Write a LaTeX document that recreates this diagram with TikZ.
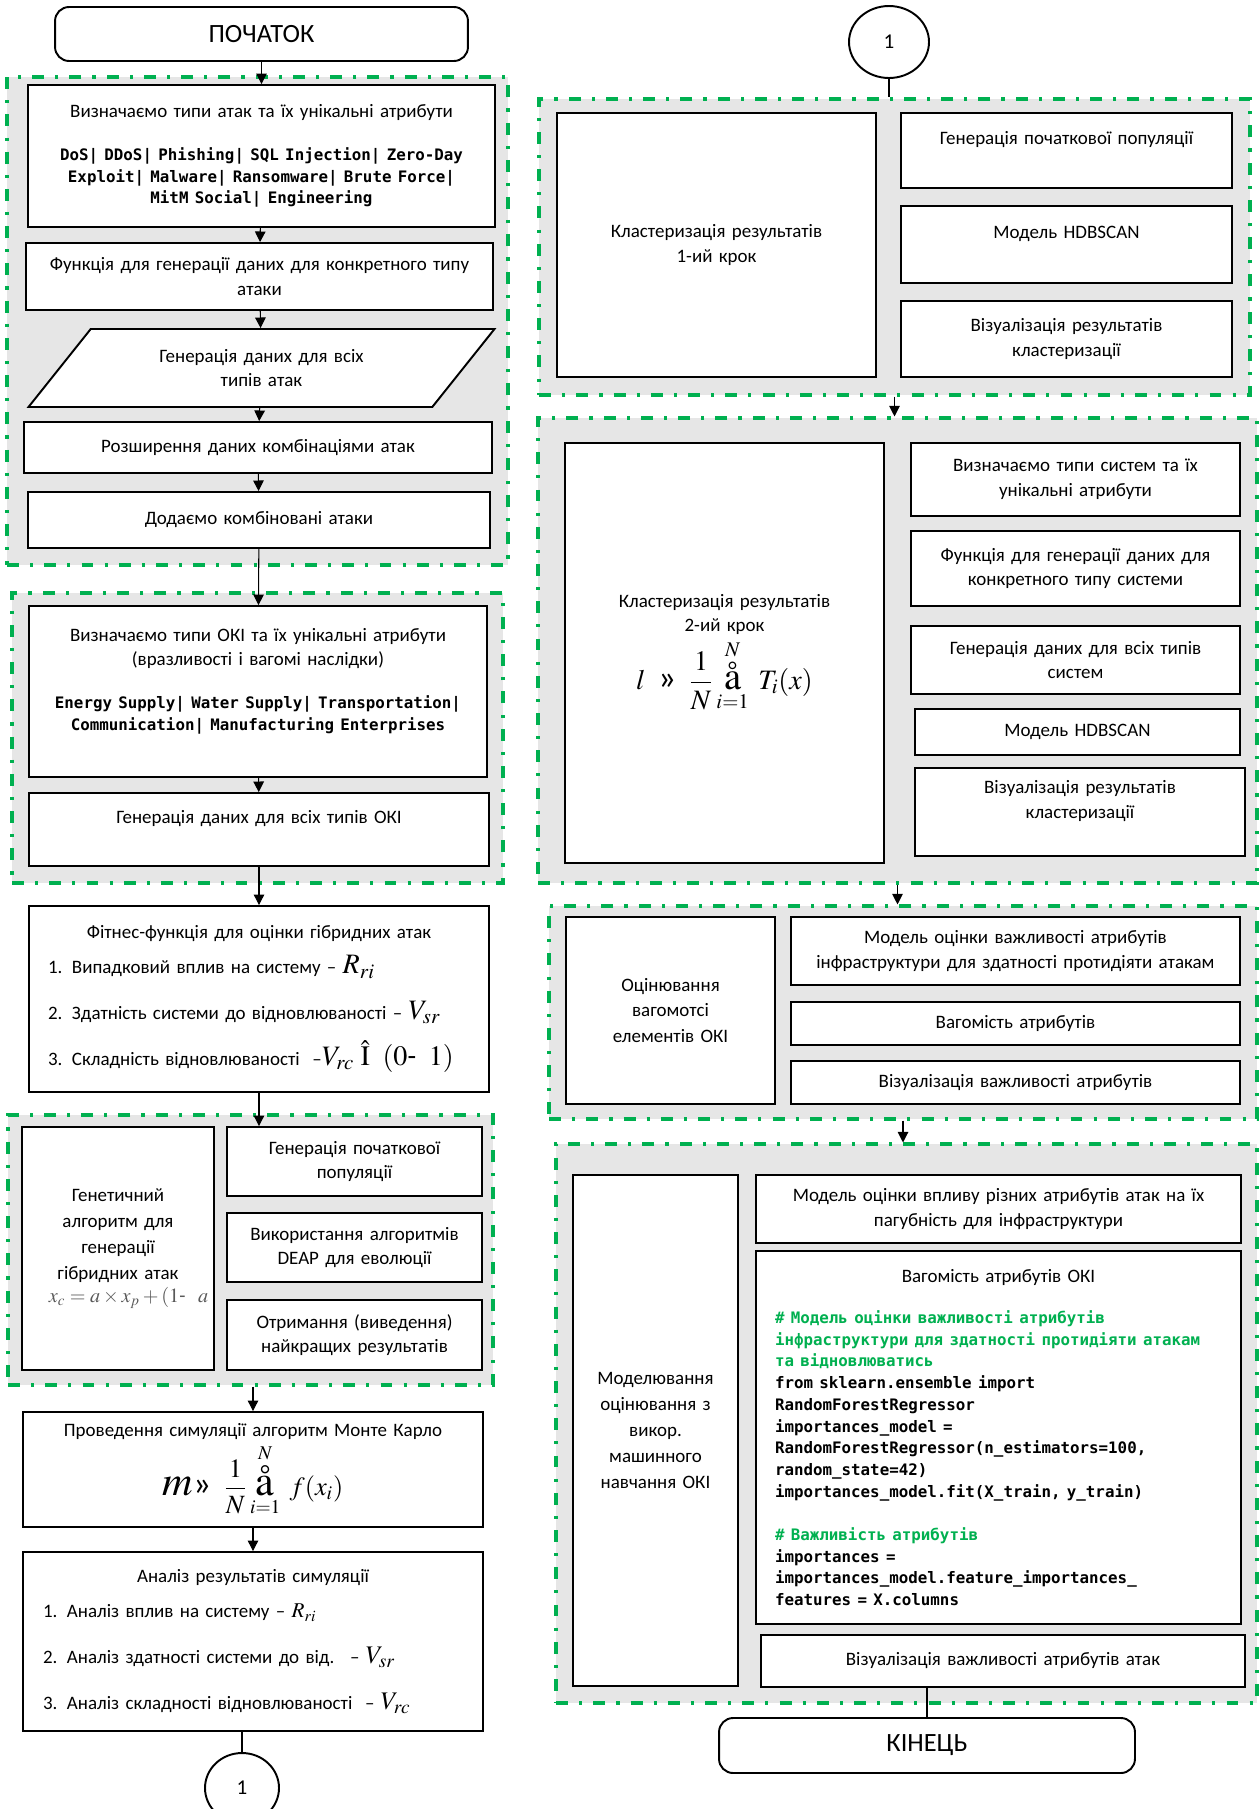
\documentclass[tikz,border=0pt]{standalone}
\usepackage{amsmath}
\usepackage{mathptmx}
\usepackage[no-math]{fontspec}
\setmainfont{Carlito}
\newfontfamily\codefont{DejaVu Sans Mono}
\usetikzlibrary{shapes.geometric, arrows.meta}
\definecolor{grpgreen}{RGB}{0,176,80}
\definecolor{grpgray}{RGB}{230,230,230}
\definecolor{codegreen}{RGB}{0,176,80}
\newcommand{\codestyle}{\codefont\bfseries\fontsize{9}{12.4}\selectfont}
\newcommand{\ringsum}[1]{\mathop{\hbox{\fontsize{#1}{#1}\selectfont$\mathring{\mathrm{a}}$}}\limits}

\begin{document}
\begin{tikzpicture}[
			x=0.02cm, y=-0.02cm,
			font=\fontsize{10.8}{14}\selectfont,
			box_node/.style={
				rectangle,
				draw=black,
				line width=1.1pt,
				fill=white,
				align=center,
				inner sep=0pt
			},
			group_node/.style={
				rectangle,
				draw=grpgreen,
				fill=grpgray,
				line width=1.8pt,
				dash pattern=on 6.8pt off 6.3pt on 1.8pt off 6.3pt,
				inner sep=0pt
			},
			term_node/.style={
				rectangle,
				rounded corners=8pt,
				draw=black,
				line width=1.1pt,
				fill=white,
				font=\fontsize{15}{18}\selectfont
			},
			conn_node/.style={
				ellipse,
				draw=black,
				line width=1.1pt,
				fill=white,
				inner sep=0pt,
				font=\fontsize{12}{14}\selectfont
			},
			line/.style={
				line width=0.6pt,
				-{Triangle[length=6pt, width=6pt]}
			},
			link/.style={
				line width=0.6pt
			}
			]
			
			\useasboundingbox (0,0) rectangle (1259,1809);
			
			% Groups
			
			\node [group_node, minimum width=10.02cm, minimum height=9.76cm] (grpAttack) at (257.5,321) {};
			\node [group_node, minimum width=9.82cm, minimum height=5.80cm] (grpOki) at (257.5,738) {};
			\node [group_node, minimum width=9.70cm, minimum height=5.40cm] (grpGen) at (250.5,1250) {};
			
			\node [group_node, minimum width=14.22cm, minimum height=5.92cm] (grpClust1) at (894.5,247) {};
			\node [group_node, minimum width=14.38cm, minimum height=9.30cm] (grpClust2) at (897.5,650.5) {};
			\node [group_node, minimum width=14.16cm, minimum height=4.26cm] (grpWeight) at (903,1012.5) {};
			\node [group_node, minimum width=14.02cm, minimum height=11.18cm] (grpML) at (906.5,1423.5) {};
			
			% Left column
			
			\node [term_node, minimum width=8.26cm, minimum height=1.08cm] (start) at (261.5,34) {ПОЧАТОК};
			
			\node [box_node, minimum width=9.34cm, minimum height=2.84cm, text width=8.94cm] (attTypes) at (261.5,156) {Визначаємо типи атак та їх унікальні атрибути\par\vspace{12pt}
				{\codestyle DoS| DDoS| Phishing| SQL Injection| Zero-Day\\ Exploit| Malware| Ransomware| Brute Force|\\ MitM Social| Engineering\par}};
			\node [box_node, minimum width=9.34cm, minimum height=1.34cm, text width=8.94cm] (genFunc) at (259.5,276.5) {Функція для генерації даних для конкретного типу\\ атаки};
			\node [box_node, trapezium, trapezium left angle=39.7, trapezium right angle=140.3, trapezium stretches=true, minimum width=9.34cm, minimum height=1.56cm, text width=5cm] (genData) at (261.5,368) {Генерація даних для всіх\\ типів атак};
			\node [box_node, minimum width=9.36cm, minimum height=1.02cm, text width=8.96cm] (expand) at (258,447.5) {Розширення даних комбінаціями атак};
			\node [box_node, minimum width=9.24cm, minimum height=1.12cm, text width=8.84cm] (addComb) at (259,520) {Додаємо комбіновані атаки};
			
			\node [box_node, minimum width=9.16cm, minimum height=3.42cm, text width=8.76cm] (okiTypes) at (258,691.5) {Визначаємо типи ОКІ та їх унікальні атрибути\\ (вразливості і вагомі наслідки)\par\vspace{12pt}
				{\codestyle Energy Supply| Water Supply| Transportation|\\ Communication| Manufacturing Enterprises\par}\mbox{}};
			\node [box_node, minimum width=9.20cm, minimum height=1.46cm, text width=8.80cm] (okiData) at (259,829.5) {Генерація даних для всіх типів ОКІ\par\mbox{}};
			
			\node [box_node, align=left, inner xsep=0.38cm, minimum width=9.20cm, minimum height=3.72cm, text width=8.44cm] (fitness) at (259,999) {{\centering Фітнес-функція для оцінки гібридних атак\par}\vspace{-6pt}
				{\fontsize{10.8}{26}\selectfont 1. Випадковий вплив на систему – {\fontsize{16}{16}\selectfont$R_{ri}$}\\
				2. Здатність системи до відновлюваності – {\fontsize{16}{16}\selectfont$V_{sr}$}\\
				3. Складність відновлюваності \ –{\fontsize{16}{16}\selectfont$V_{rc}\ \hat{\mathrm{I}}\ \ (0\text{-}\ \ 1)$}\par}};
			
			\node [box_node, minimum width=3.84cm, minimum height=4.86cm, text width=3.64cm, font=\fontsize{10.8}{14.7}\selectfont] (genAlg) at (118,1248.5) {Генетичний\\ алгоритм для\\ генерації\\ гібридних атак\par\vspace{1pt}
				{\color{black!65}\fontsize{11.5}{12}\selectfont\hspace*{12pt}$x_c = a \times x_p + (1\text{-}\ \ a$\par}};
			\node [box_node, minimum width=5.10cm, minimum height=1.38cm, text width=4.80cm] (initPop) at (354.5,1161.5) {Генерація початкової\\ популяції};
			\node [box_node, minimum width=5.10cm, minimum height=1.38cm, text width=4.80cm] (deap) at (354.5,1247.5) {Використання алгоритмів\\ DEAP для еволюції};
			\node [box_node, minimum width=5.10cm, minimum height=1.40cm, text width=4.80cm] (best) at (354.5,1335) {Отримання (виведення)\\ найкращих результатів};
			
			\node [box_node, minimum width=9.20cm, minimum height=2.30cm, text width=8.80cm] (monteCarlo) at (253,1469.5) {Проведення симуляції алгоритм Монте Карло\par\vspace{2pt}
				{\fontsize{24}{24}\selectfont$m$}{\fontsize{20}{20}\selectfont»}\ \ {\fontsize{15}{15}\selectfont$\displaystyle\frac{1}{N}\ringsum{24}^{N}_{i=1}\ f(x_i)$}\par};
			\node [box_node, align=left, inner xsep=0.4cm, minimum width=9.20cm, minimum height=3.58cm, text width=8.40cm] (analysis) at (253,1641.5) {{\centering Аналіз результатів симуляції\par}\vspace{-6pt}
				{\fontsize{10.8}{26}\selectfont 1. Аналіз вплив на систему – {\large$R_{ri}$}\\
				2. Аналіз здатності системи до від. \ – {\Large$V_{sr}$}\\
				3. Аналіз складності відновлюваності \ – {\Large$V_{rc}$}\par}};
			
			\node [conn_node, minimum width=1.48cm, minimum height=1.40cm] (conL) at (242,1788) {1};
			
			% Right column
			
			\node [conn_node, minimum width=1.60cm, minimum height=1.44cm] (conR) at (889,42) {1};
			
			\node [box_node, minimum width=6.38cm, minimum height=5.28cm, text width=5.98cm] (clust1) at (716.5,245) {Кластеризація результатів\\ 1-ий крок};
			\node [box_node, minimum width=6.62cm, minimum height=1.50cm, text width=6.22cm] (popR) at (1066.5,150.5) {Генерація початкової популяції\par\mbox{}};
			\node [box_node, minimum width=6.62cm, minimum height=1.54cm, text width=6.22cm] (hdbA) at (1066.5,244.5) {Модель HDBSCAN\par\mbox{}};
			\node [box_node, minimum width=6.62cm, minimum height=1.52cm, text width=6.22cm] (visA) at (1066.5,339) {Візуалізація результатів\\ кластеризації};
			
			\node [box_node, minimum width=6.38cm, minimum height=8.40cm, text width=5.98cm] (clust2) at (724.5,653) {Кластеризація результатів\\ 2-ий крок\par\vspace{2pt}
				{\fontsize{16}{16}\selectfont$\displaystyle l\ \ \text{\fontsize{20}{20}\selectfont»}\ \ \frac{1}{N}\ringsum{22}^{N}_{i=1}\ T_i(x)$\par}};
			\node [box_node, minimum width=6.58cm, minimum height=1.46cm, text width=6.18cm] (sysTypes) at (1075.5,479.5) {Визначаємо типи систем та їх\\ унікальні атрибути};
			\node [box_node, minimum width=6.58cm, minimum height=1.50cm, text width=6.18cm] (sysFunc) at (1075.5,568.5) {Функція для генерації даних для\\ конкретного типу системи};
			\node [box_node, minimum width=6.58cm, minimum height=1.36cm, text width=6.18cm] (sysData) at (1075.5,660) {Генерація даних для всіх типів\\ систем};
			\node [box_node, minimum width=6.50cm, minimum height=0.92cm, text width=6.10cm] (hdbB) at (1077.5,732) {Модель HDBSCAN};
			\node [box_node, minimum width=6.60cm, minimum height=1.76cm, text width=6.20cm] (visB) at (1080,812) {Візуалізація результатів\\ кластеризації\par\mbox{}};
			
			\node [box_node, minimum width=4.18cm, minimum height=3.74cm, text width=3.78cm, font=\fontsize{10.8}{14.4}\selectfont] (weightOki) at (670.5,1010.5) {Оцінювання\\ вагомотсі\\ елементів ОКІ};
			\node [box_node, minimum width=8.98cm, minimum height=1.36cm, text width=8.58cm] (impModel) at (1015.5,951) {Модель оцінки важливості атрибутів\\ інфраструктури для здатності протидіяти атакам};
			\node [box_node, minimum width=8.98cm, minimum height=0.86cm, text width=8.58cm] (attWeight) at (1015.5,1023.5) {Вагомість атрибутів};
			\node [box_node, minimum width=8.98cm, minimum height=0.86cm, text width=8.58cm] (impVis) at (1015.5,1082.5) {Візуалізація важливості атрибутів};
			
			\node [box_node, minimum width=3.30cm, minimum height=10.22cm, text width=3.10cm, font=\fontsize{10.8}{14.8}\selectfont] (mlOki) at (655.5,1430.5) {Моделювання\\ оцінювання з\\ викор.\\ машинного\\ навчання ОКІ};
			\node [box_node, minimum width=9.70cm, minimum height=1.36cm, text width=9.30cm] (dmgModel) at (998.5,1209) {Модель оцінки впливу різних атрибутів атак на їх\\ пагубність для інфраструктури};
			\node [box_node, align=left, inner xsep=0.38cm, minimum width=9.70cm, minimum height=7.46cm, text width=8.94cm] (codeBox) at (998.5,1437.5) {{\centering Вагомість атрибутів ОКІ\par}\vspace{11pt}
				{\codestyle
				{\color{codegreen}\# Модель оцінки важливості атрибутів\\
				інфраструктури для здатності протидіяти атакам\\
				та відновлюватись}\\
				from sklearn.ensemble import\\
				RandomForestRegressor\\
				importances\_model =\\
				RandomForestRegressor(n\_estimators=100,\\
				random\_state=42)\\
				importances\_model.fit(X\_train, y\_train)\par\vspace{12pt}
				{\color{codegreen}\# Важливість атрибутів}\\
				importances =\\
				importances\_model.feature\_importances\_\\
				features = X.columns\par}};
			\node [box_node, minimum width=9.68cm, minimum height=1.04cm, text width=9.28cm] (attVis) at (1003,1661) {Візуалізація важливості атрибутів атак};
			
			\node [term_node, minimum width=8.32cm, minimum height=1.10cm] (finish) at (927,1745.5) {КІНЕЦЬ};
			
			% Connections
			
			\draw[line] (start) -- (attTypes);
			\draw[line] (attTypes) -- (genFunc);
			\draw[line] (genFunc) -- (genData);
			\draw[line] (genData) -- (expand);
			\draw[line] (expand) -- (addComb);
			\draw[line] (addComb) -- (okiTypes);
			\draw[line] (okiTypes) -- (okiData);
			\draw[line] (okiData) -- (fitness);
			\draw[line] (fitness) -- (fitness |- initPop.north);
			\draw[line] (grpGen.south -| monteCarlo) -- (monteCarlo);
			\draw[line] (monteCarlo) -- (analysis);
			\draw[link] (analysis.south -| conL) -- (conL);
			
			\draw[link] (conR) -- (conR |- grpClust1.north);
			\draw[line] (grpClust1.south) -- (grpClust1.south |- grpClust2.north);
			\draw[line] (grpClust2.south) -- (grpClust2.south |- grpWeight.north);
			\draw[line] (grpWeight.south) -- (grpWeight.south |- grpML.north);
			\draw[link] (attVis.south -| finish) -- (finish);
			
		\end{tikzpicture}
\end{document}
